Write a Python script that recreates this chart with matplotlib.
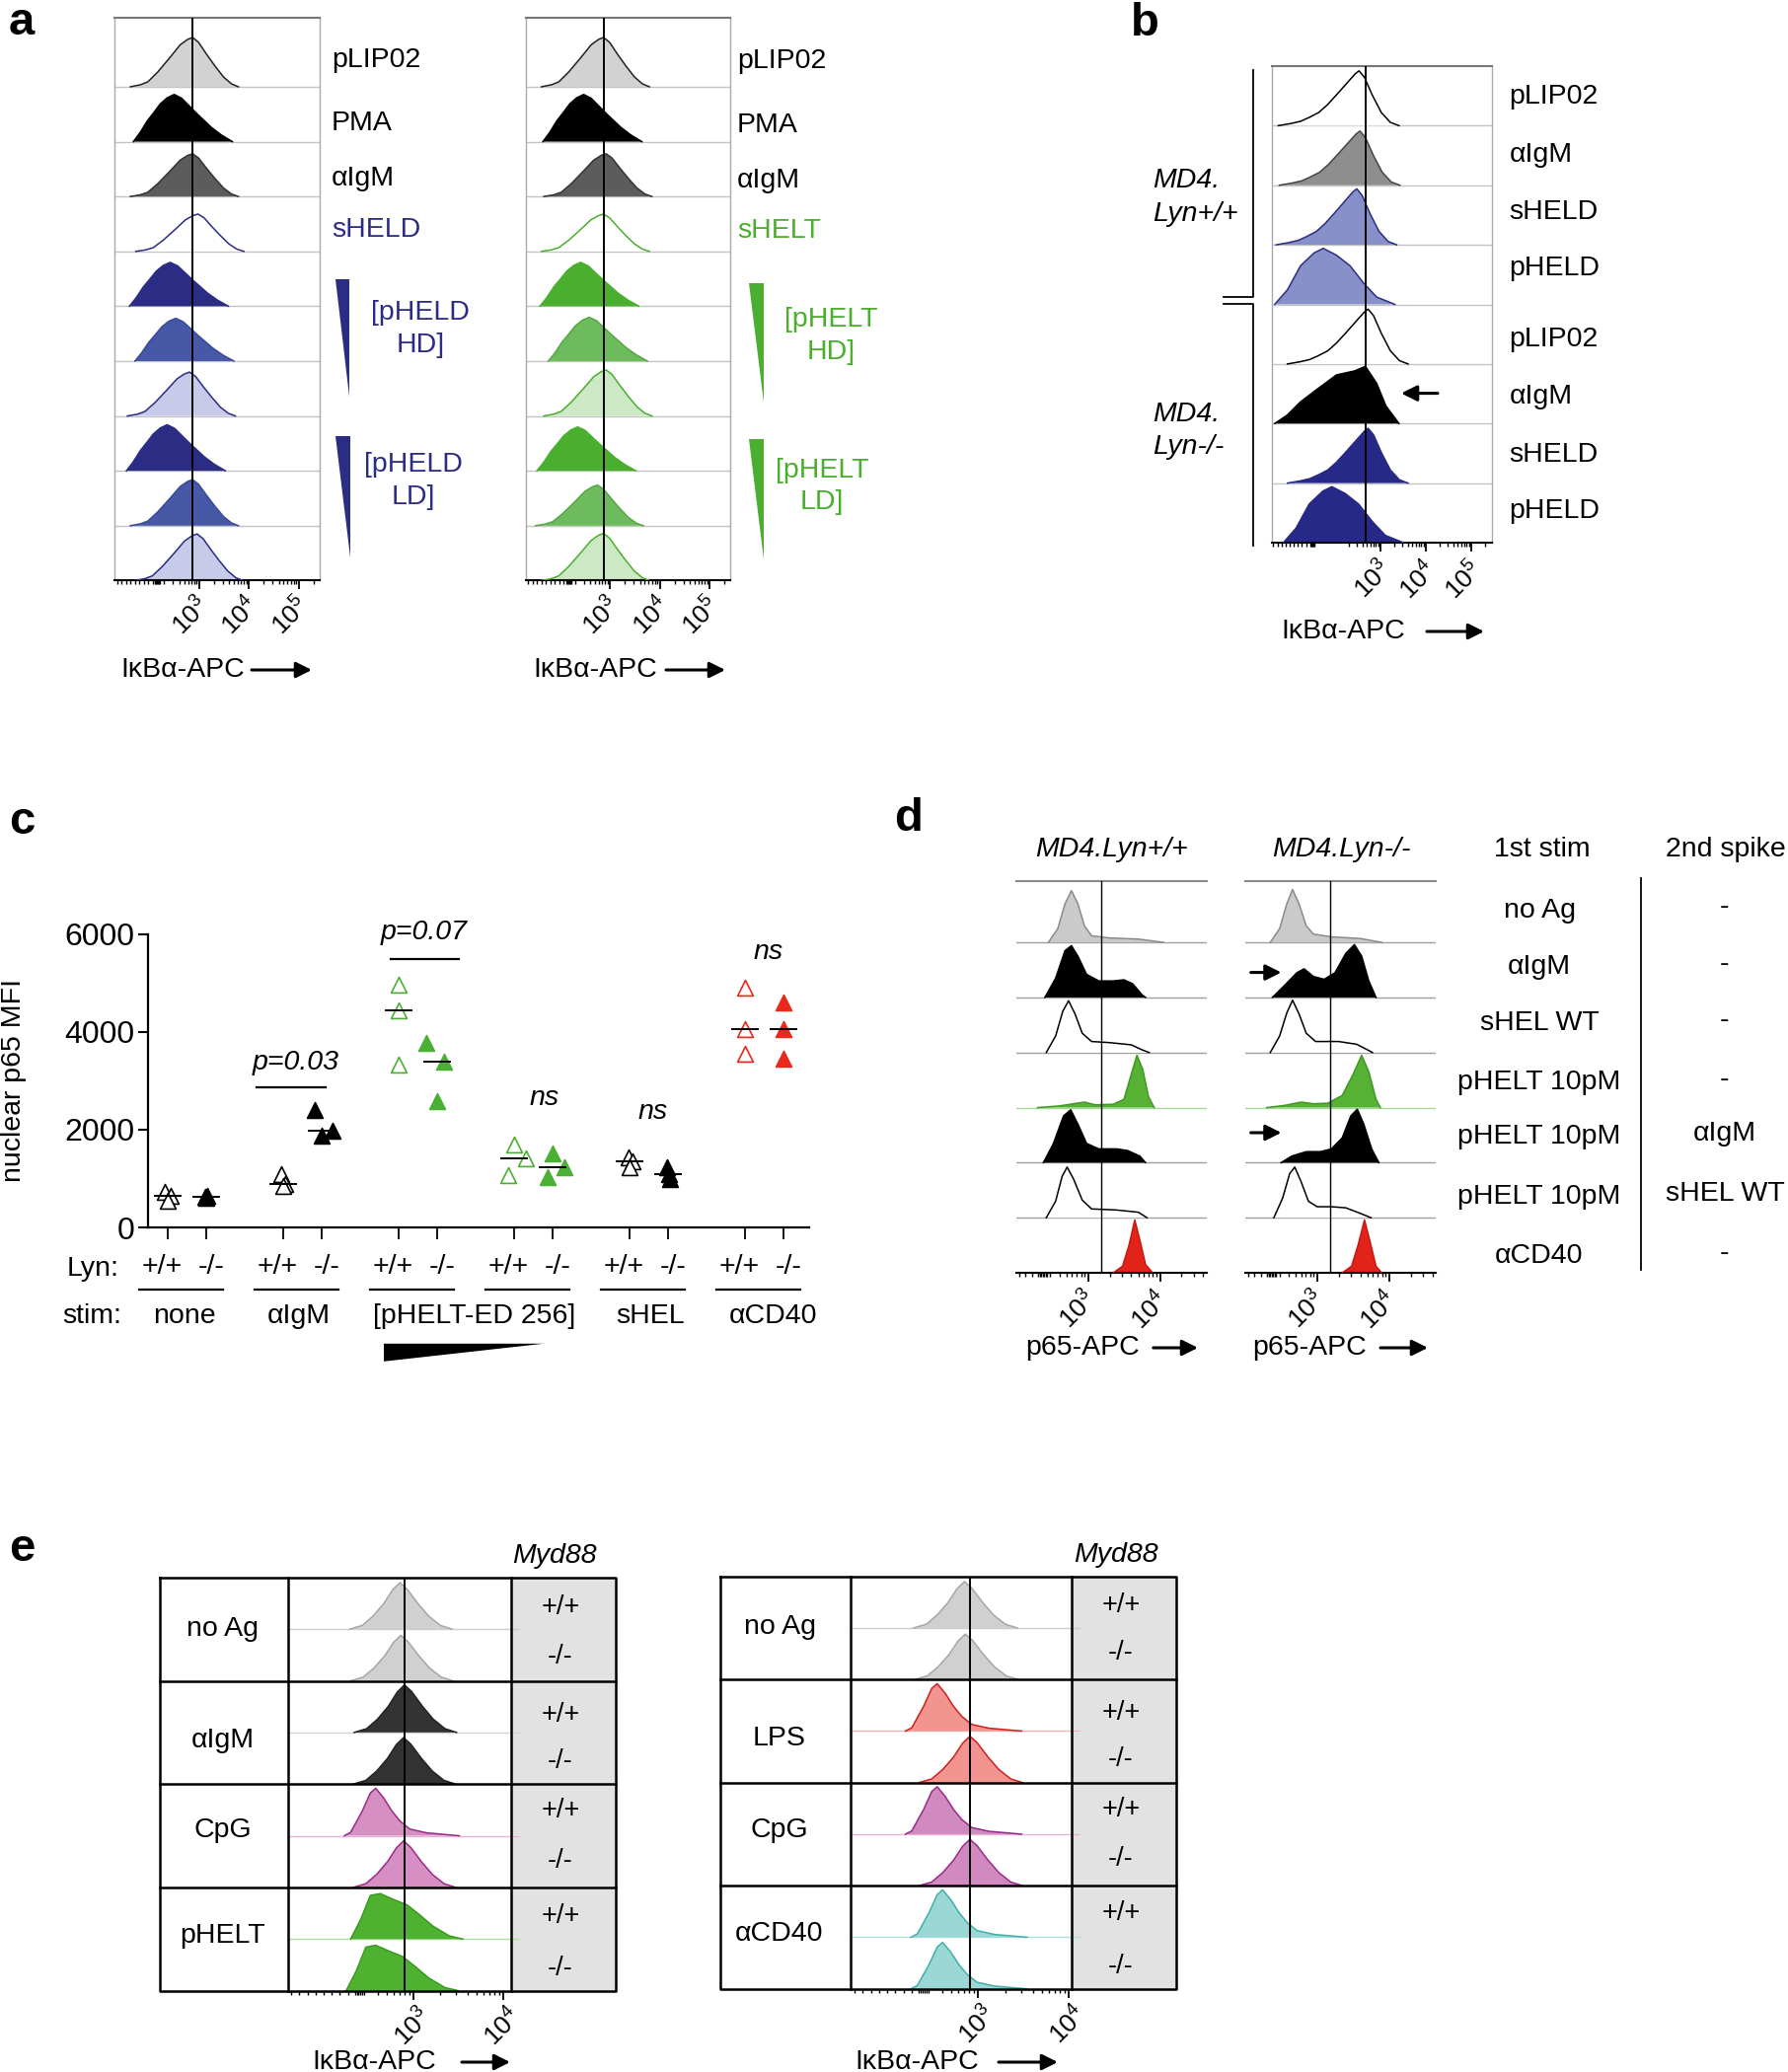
import numpy as np
import matplotlib
matplotlib.use('Agg')
import matplotlib.pyplot as plt
from matplotlib.transforms import ScaledTranslation

plt.rcParams['font.family'] = ['Liberation Sans', 'DejaVu Sans']
plt.rcParams['mathtext.fontset'] = 'custom'
plt.rcParams['mathtext.rm'] = 'Liberation Sans'
plt.rcParams['mathtext.it'] = 'Liberation Sans:italic'

W, H = 1812, 2100

# ---------------- data ----------------
# histogram profiles: offset from the peak (decades of the display axis), relative height
shape_a_sym_x = [-1.25, -1.05, -0.9, -0.7, -0.45, -0.25, -0.1, 0, 0.12, 0.28, 0.45, 0.62, 0.78, 0.92]
shape_a_sym_h = [0, 0.04, 0.1, 0.3, 0.6, 0.85, 0.96, 1.0, 0.9, 0.66, 0.42, 0.2, 0.06, 0]
shape_a_skew_x = [-0.82, -0.68, -0.54, -0.4, -0.28, -0.14, 0, 0.15, 0.3, 0.45, 0.6, 0.75, 0.95, 1.17]
shape_a_skew_h = [0, 0.2, 0.44, 0.63, 0.8, 0.93, 1.0, 0.92, 0.76, 0.6, 0.45, 0.3, 0.14, 0]
shape_b_left_x = [-1.78, -1.5, -1.29, -1.1, -0.89, -0.7, -0.5, -0.35, -0.2, -0.08, 0, 0.12, 0.29, 0.49, 0.69, 0.88]
shape_b_left_h = [0, 0.04, 0.08, 0.15, 0.24, 0.38, 0.56, 0.7, 0.84, 0.95, 1.0, 0.88, 0.56, 0.24, 0.06, 0]
shape_b_broad_x = [-1.07, -0.79, -0.5, -0.2, 0, 0.29, 0.59, 0.89, 1.18, 1.58]
shape_b_broad_h = [0, 0.26, 0.69, 0.92, 1.0, 0.88, 0.69, 0.38, 0.13, 0]
shape_b_plat_x = [-2.0, -1.72, -1.43, -1.03, -0.64, -0.24, 0, 0.25, 0.45, 0.74]
shape_b_plat_h = [0, 0.15, 0.38, 0.62, 0.85, 0.92, 1.0, 0.7, 0.31, 0]
shape_e_sym_x = [-0.56, -0.42, -0.3, -0.18, -0.08, 0, 0.08, 0.2, 0.32, 0.45, 0.58]
shape_e_sym_h = [0, 0.08, 0.28, 0.55, 0.85, 1.0, 0.86, 0.55, 0.28, 0.08, 0]
shape_e_skew_x = [-0.35, -0.28, -0.15, -0.06, 0, 0.09, 0.18, 0.27, 0.38, 0.57, 0.93]
shape_e_skew_h = [0, 0.07, 0.52, 0.9, 1.0, 0.79, 0.52, 0.31, 0.14, 0.06, 0]
shape_e_broad_x = [-0.3, -0.19, -0.08, 0.03, 0.18, 0.33, 0.47, 0.62, 0.8, 0.95]
shape_e_broad_h = [0, 0.42, 0.96, 1.0, 0.87, 0.75, 0.53, 0.28, 0.07, 0]

# panel a
a_labels_left = ['pLIP02', 'PMA', 'αIgM', 'sHELD']
a_labels_right = ['pLIP02', 'PMA', 'αIgM', 'sHELT']
a_shapes = ['a_sym', 'a_skew', 'a_sym', 'a_sym', 'a_skew', 'a_skew', 'a_sym', 'a_skew', 'a_sym', 'a_sym']
a_left_peaks = [2.87, 2.5, 2.87, 2.98, 2.42, 2.53, 2.81, 2.36, 2.87, 2.96]
a_right_peaks = [2.87, 2.47, 2.92, 2.87, 2.41, 2.58, 2.92, 2.35, 2.75, 2.87]
a_left_heights = [0.9, 0.86, 0.78, 0.68, 0.8, 0.78, 0.8, 0.84, 0.84, 0.85]
a_right_heights = [0.9, 0.86, 0.78, 0.68, 0.8, 0.8, 0.84, 0.8, 0.74, 0.86]

# panel b
b_labels = ['pLIP02', 'αIgM', 'sHELD', 'pHELD', 'pLIP02', 'αIgM', 'sHELD', 'pHELD']
b_shapes = ['b_left', 'b_left', 'b_left', 'b_broad', 'b_left', 'b_plat', 'b_left', 'b_broad']
b_peaks = [2.53, 2.55, 2.48, 1.74, 2.73, 2.67, 2.73, 1.93]
b_heights = [0.92, 0.91, 0.94, 0.94, 0.92, 0.96, 0.92, 0.94]

# panel c: nuclear p65 MFI, three mice per genotype
c_stims = ['none', 'αIgM', '[pHELT-ED 256]', 'sHEL', 'αCD40']
c_wt = [[720, 650, 540], [1080, 890, 850], [4960, 4440, 3320],
        [1700, 1410, 1060], [1440, 1350, 1240], [4910, 4050, 3560]]
c_ko = [[640, 625, 605], [2400, 1985, 1880], [3770, 3400, 2590],
        [1510, 1225, 1020], [1230, 1090, 990], [4600, 4050, 3460]]
c_wt_jit = [[-0.07, 0.07, 0], [-0.05, 0.04, 0], [0, 0, 0],
            [0, 0.3, -0.16], [-0.03, 0.07, 0], [0, 0, 0]]
c_ko_jit = [[0.03, -0.03, 0], [-0.17, 0.28, 0], [-0.29, 0.18, 0],
            [0, 0.32, -0.13], [-0.02, 0.02, 0.05], [0, 0, 0]]

# panel d: explicit histogram outlines (decade position, relative height)
d_stim1 = ['no Ag', 'αIgM', 'sHEL WT', 'pHELT 10pM', 'pHELT 10pM', 'pHELT 10pM', 'αCD40']
d_stim2 = ['-', '-', '-', '-', 'αIgM', 'sHEL WT', '-']
d_wt_x = [[2.45, 2.58, 2.68, 2.77, 2.86, 2.95, 3.05, 3.3, 3.7, 4.05],
          [2.4, 2.55, 2.68, 2.77, 2.86, 2.98, 3.15, 3.35, 3.5, 3.62, 3.75, 3.8],
          [2.42, 2.55, 2.65, 2.73, 2.82, 2.92, 3.05, 3.3, 3.6, 3.75, 3.85],
          [2.3, 2.6, 2.85, 2.95, 3.1, 3.35, 3.5, 3.6, 3.68, 3.76, 3.84, 3.92],
          [2.38, 2.52, 2.66, 2.76, 2.86, 2.98, 3.15, 3.4, 3.55, 3.72, 3.8],
          [2.42, 2.55, 2.64, 2.71, 2.8, 2.92, 3.05, 3.4, 3.7, 3.82],
          [3.35, 3.48, 3.57, 3.65, 3.72, 3.8, 3.9]]
d_wt_h = [[0, 0.25, 0.7, 0.94, 0.7, 0.3, 0.12, 0.08, 0.06, 0],
          [0, 0.35, 0.85, 0.94, 0.75, 0.42, 0.3, 0.3, 0.32, 0.25, 0.05, 0],
          [0, 0.3, 0.75, 0.94, 0.7, 0.35, 0.2, 0.18, 0.14, 0.05, 0],
          [0, 0.03, 0.08, 0.1, 0.05, 0.06, 0.15, 0.6, 0.95, 0.7, 0.2, 0],
          [0, 0.35, 0.85, 0.96, 0.7, 0.35, 0.25, 0.25, 0.22, 0.12, 0],
          [0, 0.3, 0.75, 0.92, 0.7, 0.32, 0.16, 0.14, 0.1, 0],
          [0, 0.12, 0.5, 0.96, 0.6, 0.15, 0]]
d_ko_x = [[2.35, 2.48, 2.58, 2.66, 2.75, 2.85, 2.95, 3.2, 3.6, 3.9],
          [2.38, 2.55, 2.72, 2.82, 2.95, 3.1, 3.25, 3.4, 3.52, 3.62, 3.72, 3.82],
          [2.35, 2.48, 2.58, 2.66, 2.75, 2.85, 2.98, 3.3, 3.55, 3.7, 3.77],
          [2.3, 2.55, 2.78, 2.95, 3.15, 3.35, 3.5, 3.62, 3.72, 3.82, 3.88],
          [2.5, 2.65, 2.85, 3.05, 3.2, 3.35, 3.47, 3.56, 3.65, 3.76, 3.86],
          [2.4, 2.52, 2.62, 2.69, 2.78, 2.88, 3.0, 3.2, 3.4, 3.6, 3.75],
          [3.35, 3.48, 3.57, 3.66, 3.74, 3.82, 3.9]]
d_ko_h = [[0, 0.25, 0.7, 0.96, 0.7, 0.3, 0.15, 0.1, 0.07, 0],
          [0, 0.22, 0.45, 0.52, 0.38, 0.33, 0.45, 0.8, 0.96, 0.75, 0.3, 0],
          [0, 0.3, 0.72, 0.95, 0.7, 0.35, 0.2, 0.2, 0.15, 0.05, 0],
          [0, 0.04, 0.1, 0.07, 0.08, 0.22, 0.6, 0.95, 0.65, 0.15, 0],
          [0, 0.12, 0.2, 0.2, 0.25, 0.45, 0.85, 0.97, 0.7, 0.25, 0],
          [0, 0.35, 0.8, 0.92, 0.65, 0.3, 0.2, 0.2, 0.18, 0.08, 0],
          [0, 0.12, 0.5, 0.96, 0.55, 0.12, 0]]

# panel e
e_geno = ['+/+', '-/-']
e_left_stim = ['no Ag', 'αIgM', 'CpG', 'pHELT']
e_right_stim = ['no Ag', 'LPS', 'CpG', 'αCD40']
e_left_shapes = ['e_sym', 'e_sym', 'e_sym', 'e_sym', 'e_skew', 'e_sym', 'e_broad', 'e_broad']
e_left_peaks = [2.85, 2.86, 2.9, 2.89, 2.58, 2.89, 2.6, 2.55]
e_left_heights = [0.9, 0.88, 0.92, 0.9, 0.92, 0.9, 0.88, 0.88]
e_right_shapes = ['e_sym', 'e_sym', 'e_skew', 'e_sym', 'e_skew', 'e_sym', 'e_skew', 'e_skew']
e_right_peaks = [2.85, 2.86, 2.55, 2.91, 2.55, 2.91, 2.61, 2.61]
e_right_heights = [0.9, 0.88, 0.92, 0.9, 0.92, 0.9, 0.92, 0.9]

SHAPES = {'a_sym': (shape_a_sym_x, shape_a_sym_h), 'a_skew': (shape_a_skew_x, shape_a_skew_h),
          'b_left': (shape_b_left_x, shape_b_left_h), 'b_broad': (shape_b_broad_x, shape_b_broad_h),
          'b_plat': (shape_b_plat_x, shape_b_plat_h), 'e_sym': (shape_e_sym_x, shape_e_sym_h),
          'e_skew': (shape_e_skew_x, shape_e_skew_h), 'e_broad': (shape_e_broad_x, shape_e_broad_h)}

# ---------------- colours ----------------
NAVY, BLUE, LAV = '#2b2d84', '#4758a6', '#c7cae8'
GREEN, MGREEN, LGREEN = '#4aae2e', '#6dbb5c', '#cde8c4'
a_left_face = ['#d2d2d2', 'k', '#5c5c5c', 'white', NAVY, BLUE, LAV, NAVY, BLUE, LAV]
a_left_edge = ['#222222', 'k', '#333333', NAVY, NAVY, '#3a4a9a', NAVY, NAVY, '#3a4a9a', NAVY]
a_right_face = ['#d2d2d2', 'k', '#5c5c5c', 'white', GREEN, MGREEN, LGREEN, GREEN, MGREEN, LGREEN]
a_right_edge = ['#222222', 'k', '#333333', GREEN, GREEN, '#55a843', GREEN, GREEN, '#55a843', GREEN]
b_face = ['white', '#8e8e8e', '#8890c9', '#8890c9', 'white', 'k', '#262a86', '#262a86']
b_edge = ['k', '#444444', NAVY, NAVY, 'k', 'k', '#262a86', '#262a86']
d_face = ['#cacaca', 'k', 'white', '#56b134', 'k', 'white', '#e2231a']
d_edge = ['#8a8a8a', 'k', 'k', '#3f9a22', 'k', 'k', '#c81a12']
d_base = ['#a0a0a0', '#a0a0a0', '#a0a0a0', '#a8d898', '#a0a0a0', '#a0a0a0', '#c84040']
e_left_face = ['#d0d0d0'] * 2 + ['#333333'] * 2 + ['#d58fc2'] * 2 + ['#4fb130'] * 2
e_left_edge = ['#a6a6a6'] * 2 + ['#222222'] * 2 + ['#9c2a88'] * 2 + ['#3a9a20'] * 2
e_left_base = ['#cccccc', 'none', '#d4d4d4', 'none', '#e4b4d8', 'none', '#acdca0', 'none']
e_right_face = ['#d0d0d0'] * 2 + ['#f29490'] * 2 + ['#d08ac0'] * 2 + ['#9ad7d5'] * 2
e_right_edge = ['#a6a6a6'] * 2 + ['#d0201d'] * 2 + ['#9a2a8a'] * 2 + ['#3fb0ab'] * 2
e_right_base = ['#cccccc', 'none', '#f0b4b4', 'none', '#e4b4d8', 'none', '#acdfdd', 'none']

FS = 20.5

fig = plt.figure(figsize=(W / 100, H / 100), dpi=100)
bg = fig.add_axes([0, 0, 1, 1], zorder=0)
ov = fig.add_axes([0, 0, 1, 1], zorder=10)
for o in (bg, ov):
    o.set_xlim(0, W)
    o.set_ylim(H, 0)
    o.axis('off')


def box_axes(x0, y0, x1, y1):
    ax = fig.add_axes([x0 / W, 1 - y1 / H, (x1 - x0) / W, (y1 - y0) / H], zorder=2)
    ax.set_facecolor('none')
    return ax


def draw_hist(ax, b, xs, hs, face, edge, basecol, lo, hi):
    ys = b + np.asarray(hs)
    if basecol != 'none':
        ax.plot([lo, hi], [b, b], color=basecol, lw=1, zorder=1)
    ax.fill_between(xs, b, ys, facecolor=face, lw=0, zorder=2)
    ax.plot(xs, ys, color=edge, lw=1.1, zorder=3)


def stack(ax, peaks, shapes, heights, faces, edges, bases, lo, hi, ytop, vline):
    n = len(peaks)
    for i in range(n):
        sx, sh = SHAPES[shapes[i]]
        xs = peaks[i] + np.asarray(sx)
        hs = heights[i] * np.asarray(sh)
        draw_hist(ax, n - 1 - i, xs, hs, faces[i], edges[i], bases[i], lo, hi)
    ax.axvline(vline, color='k', lw=1.4, zorder=5)
    ax.set_xlim(lo, hi)
    ax.set_ylim(0, ytop)
    ax.set_yticks([])


def flow_axis(ax, majors, zero, dx_px, pad_px):
    lo, hi = ax.get_xlim()
    ax.set_xticks(majors)
    ax.set_xticklabels(['$10^{%d}$' % m for m in majors], rotation=45, ha='center', va='top', fontsize=19)
    minor = [d + np.log10(k) for d in range(2, 6) for k in range(2, 10)]
    minor = [m for m in minor if zero + 0.08 < m < hi]
    minor += list(zero + np.linspace(-0.05, 0.05, 6))
    minor += list(np.arange(lo + 0.04, zero - 0.07, 0.09))
    ax.set_xticks(minor, minor=True)
    ax.tick_params(axis='x', which='major', length=6.5, width=1.3, pad=pad_px * 0.72)
    ax.tick_params(axis='x', which='minor', length=3.2, width=1.0)
    for lab in ax.get_xticklabels():
        lab.set_transform(lab.get_transform() + ScaledTranslation(dx_px / 100, 0, fig.dpi_scale_trans))


def frame(ax, top='#777777', sides='#aaaaaa', show_sides=True):
    ax.spines['top'].set_color(top)
    ax.spines['top'].set_linewidth(1.5)
    for s in ('left', 'right'):
        ax.spines[s].set_visible(show_sides)
        ax.spines[s].set_color(sides)
        ax.spines[s].set_linewidth(1.0)
    ax.spines['bottom'].set_linewidth(1.5)


def T(x, y, s, **kw):
    kw.setdefault('fontsize', FS)
    kw.setdefault('va', 'center')
    ov.text(x, y, s, **kw)


def harrow(x0, x1, y):
    ov.annotate('', xy=(x1, y), xytext=(x0, y),
                arrowprops=dict(arrowstyle='-|>', color='k', lw=2.2, mutation_scale=24, shrinkA=0, shrinkB=0))


def panel_letter(x, y, s):
    T(x, y, s, fontsize=34, fontweight='bold', ha='center')


# ---------------- panel a ----------------
panel_letter(22, 23, 'a')
for (x0, peaks, heights, faces, edges, labels, lab_x, lab_ys, col) in [
        (116.5, a_left_peaks, a_left_heights, a_left_face, a_left_edge, a_labels_left, 336, [61, 125, 181, 233], NAVY),
        (533.0, a_right_peaks, a_right_heights, a_right_face, a_right_edge, a_labels_right, 747, [62, 127, 183, 234], GREEN)]:
    ax = box_axes(x0, 17.9, x0 + 207.3, 588.4)
    stack(ax, peaks, a_shapes, heights, faces, edges, ['#c4c4c4'] * 10, 1.31, 5.42, 10.26, 2.87)
    frame(ax)
    flow_axis(ax, [3, 4, 5], 2.17, -8, 3)
    for j, lab in enumerate(labels):
        T(lab_x, lab_ys[j], lab, ha='left', color='k' if j < 3 else col)

T(426, 317, '[pHELD', ha='center', color=NAVY)
T(426, 350, 'HD]', ha='center', color=NAVY)
T(419, 471, '[pHELD', ha='center', color=NAVY)
T(419, 504, 'LD]', ha='center', color=NAVY)
T(842, 324, '[pHELT', ha='center', color=GREEN)
T(842, 357, 'HD]', ha='center', color=GREEN)
T(833, 477, '[pHELT', ha='center', color=GREEN)
T(833, 509, 'LD]', ha='center', color=GREEN)
ov.fill([340, 354, 354], [283, 283, 402], color=NAVY, lw=0)
ov.fill([340, 355, 355], [442, 442, 565], color=NAVY, lw=0)
ov.fill([759, 774, 774], [287, 287, 408], color=GREEN, lw=0)
ov.fill([759, 774, 774], [445, 445, 567], color=GREEN, lw=0)
T(122, 679, 'IκBα-APC', ha='left')
harrow(255, 316, 679)
T(540, 679, 'IκBα-APC', ha='left')
harrow(675, 735, 679)

# ---------------- panel b ----------------
panel_letter(1160, 24, 'b')
ax = box_axes(1288.6, 67, 1512, 550)
stack(ax, b_peaks, b_shapes, b_heights, b_face, b_edge, ['#c4c4c4'] * 8, 0.6, 5.46, 8.0, 2.67)
frame(ax)
flow_axis(ax, [3, 4, 5], 1.5, -7, 5)
b_lab_y = [98, 156.5, 215, 272, 344, 402, 460.5, 518]
for j, lab in enumerate(b_labels):
    T(1529.5, b_lab_y[j], lab, ha='left')
T(1168, 183, 'MD4.', ha='left', style='italic')
T(1168, 216.5, 'Lyn+/+', ha='left', style='italic')
T(1168, 420, 'MD4.', ha='left', style='italic')
T(1168, 453, 'Lyn-/-', ha='left', style='italic')
ov.plot([1270, 1270, 1240], [71, 301, 301], color='k', lw=1.3)
ov.plot([1240, 1270, 1270], [308, 308, 553], color='k', lw=1.3)
harrow(1457, 1420, 398.6)
T(1298, 640, 'IκBα-APC', ha='left')
harrow(1446, 1504, 640)

# ---------------- panel c ----------------
panel_letter(22, 833, 'c')
axc = box_axes(150, 946.7, 820, 1244)
c_colors = ['k', 'k', '#4caf35', '#4caf35', 'k', '#e8291c']
for g in range(6):
    for geno, vals, jit in ((0, c_wt[g], c_wt_jit[g]), (1, c_ko[g], c_ko_jit[g])):
        xc = 3 * g + geno
        xs = [xc + j for j in jit]
        face = 'white' if geno == 0 else c_colors[g]
        axc.scatter(xs, vals, marker='^', s=130, facecolors=face, edgecolors=c_colors[g],
                    linewidths=1.2, zorder=3, clip_on=False)
        med = np.median(vals)
        axc.plot([xc - 0.34, xc + 0.34], [med, med], color='k', lw=1.4, zorder=4)
axc.set_xlim(-0.513, 16.67)
axc.set_ylim(0, 6000)
axc.set_yticks([0, 2000, 4000, 6000])
axc.set_yticklabels(['0', '2000', '4000', '6000'], fontsize=23)
axc.set_xticks([3 * g + k for g in range(6) for k in (0, 1)])
axc.set_xticklabels([])
axc.tick_params(axis='y', length=7, width=1.5, pad=3)
axc.tick_params(axis='x', length=8.5, width=1.3)
for s in ('top', 'right'):
    axc.spines[s].set_visible(False)
for s in ('left', 'bottom'):
    axc.spines[s].set_linewidth(1.6)
T(14, 1095, 'nuclear p65 MFI', ha='center', rotation=90)

T(299.7, 1077.5, 'p=0.03', ha='center', style='italic')
ov.plot([260, 330], [1102, 1102], color='k', lw=1.6)
T(430, 945, 'p=0.07', ha='center', style='italic')
ov.plot([396, 465], [971.5, 971.5], color='k', lw=1.6)
T(551.7, 1113.3, 'ns', ha='center', style='italic')
T(661.7, 1126.7, 'ns', ha='center', style='italic')
T(779, 965, 'ns', ha='center', style='italic')

T(121, 1286, 'Lyn:', ha='right')
T(123, 1334, 'stim:', ha='right')
for g in range(6):
    xp = 170 + 117 * g
    xm = xp + 39
    T(xp - 6, 1284, '+/+', ha='center')
    T(xm + 5, 1284, '-/-', ha='center')
    ov.plot([xp - 29, xm + 17], [1307, 1307], color='k', lw=1.6)
for name, xc in zip(c_stims, [186.6, 302.5, 481, 659, 783.6]):
    T(xc, 1334, name, ha='center')
ov.fill([389, 551, 389], [1361.8, 1361.8, 1379.8], color='k', lw=0)

# ---------------- panel d ----------------
panel_letter(921, 830, 'd')
for x0, xs_all, hs_all, title, tx in [(1029.7, d_wt_x, d_wt_h, 'MD4.Lyn+/+', 1127),
                                      (1261.8, d_ko_x, d_ko_h, 'MD4.Lyn-/-', 1359.6)]:
    ax = box_axes(x0, 892.6, x0 + 193.2, 1290)
    for i in range(7):
        draw_hist(ax, 6 - i, xs_all[i], hs_all[i], d_face[i], d_edge[i], d_base[i], 2.0, 4.65)
    ax.axvline(3.18, color='k', lw=1.0, zorder=5)
    ax.set_xlim(2.0, 4.65)
    ax.set_ylim(0, 7.12)
    ax.set_yticks([])
    frame(ax, top='#8a8a8a', show_sides=False)
    flow_axis(ax, [3, 4], 2.38, -9.5, 5)
    T(tx, 861, title, ha='center', style='italic')
T(1039.6, 1366, 'p65-APC', ha='left')
harrow(1168.8, 1214, 1366)
T(1269, 1366, 'p65-APC', ha='left')
harrow(1399, 1447, 1366)
harrow(1267.6, 1298.5, 985.6)
harrow(1267.6, 1298.5, 1148)
T(1563, 861, '1st stim', ha='center')
T(1688, 861, '2nd spike', ha='left')
ov.plot([1663, 1663], [890, 1287], color='k', lw=1.3)
d_row_y = [922.5, 980, 1037, 1096.6, 1152, 1213, 1272.6]
for j in range(7):
    T(1560, d_row_y[j], d_stim1[j], ha='center')
    T(1748, d_row_y[j] - 3, d_stim2[j], ha='center')

# ---------------- panel e ----------------
panel_letter(22, 1570, 'e')
for (tx0, ty0, tx1, ty1, c1, c2, stims, shapes, peaks, heights, faces, edges, bases,
     lab_x, lab_y, gen_x, gen_y, myd_x, xl_x, ar_x, dec, vl) in [
        (162, 1598.8, 624, 2017.6, 291.6, 518.4, e_left_stim, e_left_shapes, e_left_peaks,
         e_left_heights, e_left_face, e_left_edge, e_left_base, 225.6, [1651, 1764, 1855, 1962], 568,
         [1629, 1679, 1738, 1784.5, 1834.5, 1886, 1941.7, 1995.4], 562, 316, (468, 517), 91, 2.9),
        (729.8, 1597.7, 1191.5, 2015.7, 862.4, 1085.8, e_right_stim, e_right_shapes, e_right_peaks,
         e_right_heights, e_right_face, e_right_edge, e_right_base, 790, [1649.5, 1762, 1855, 1960], 1136,
         [1627, 1674.6, 1736, 1782.7, 1833.7, 1884.4, 1939, 1993.5], 1130.7, 866, (1012, 1072), 92, 2.91)]:
    bg.fill([c2, tx1, tx1, c2], [ty0, ty0, ty1, ty1], color='#e2e2e2', lw=0)
    x1 = c2 + 9
    lo = 1.6
    hi = lo + (x1 - c1) / dec
    ax = box_axes(c1, ty0, x1, ty1)
    stack(ax, peaks, shapes, heights, faces, edges, bases, lo, hi, 8.0, vl)
    for s in ('top', 'left', 'right'):
        ax.spines[s].set_visible(False)
    flow_axis(ax, [3, 4], 2.4, 0, 4)
    ax.spines['bottom'].set_bounds(lo, lo + (c2 - c1) / dec)
    step = (ty1 - ty0) / 4
    ov.plot([tx0, tx1, tx1, tx0, tx0], [ty0, ty0, ty1, ty1, ty0], color='k', lw=1.8)
    for k in range(1, 4):
        ov.plot([tx0, tx1], [ty0 + k * step] * 2, color='k', lw=1.8)
    for xv in (c1, c2):
        ov.plot([xv, xv], [ty0, ty1], color='k', lw=1.8)
    for j in range(4):
        T(lab_x, lab_y[j], stims[j], ha='center')
    for j in range(8):
        T(gen_x, gen_y[j], e_geno[j % 2], ha='center', fontsize=19.5)
    T(myd_x, ty0 - 22, 'Myd88', ha='center', style='italic')
    T(xl_x, 2090, 'IκBα-APC', ha='left')
    harrow(ar_x[0], ar_x[1], 2090)

fig.savefig('out.png', dpi=100)
